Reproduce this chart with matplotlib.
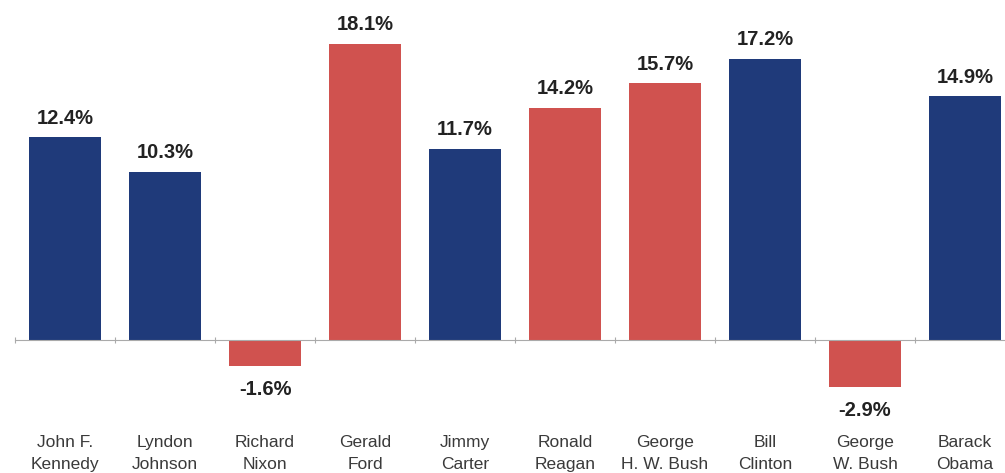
import numpy as np
import matplotlib.pyplot as plt

plt.rcParams["font.family"] = ["Liberation Sans", "DejaVu Sans"]

# data
presidents = ["John F.\nKennedy", "Lyndon\nJohnson", "Richard\nNixon", "Gerald\nFord",
              "Jimmy\nCarter", "Ronald\nReagan", "George\nH. W. Bush", "Bill\nClinton",
              "George\nW. Bush", "Barack\nObama"]
values = [12.4, 10.3, -1.6, 18.1, 11.7, 14.2, 15.7, 17.2, -2.9, 14.9]
party = ["D", "D", "R", "R", "D", "R", "R", "D", "R", "D"]

colors = {"D": "#1f3a7a", "R": "#d0524f"}

fig = plt.figure(figsize=(10.05, 4.73), dpi=100)
ax = fig.add_axes([15 / 1005, 0, 990 / 1005, 1])

x = np.arange(len(values))
ax.bar(x, values, width=0.72, color=[colors[p] for p in party], zorder=2)

# value labels
for xi, v in zip(x, values):
    off = 7 if v >= 0 else -10
    va = "bottom" if v >= 0 else "top"
    ax.annotate(f"{v:.1f}%", (xi, v), xytext=(0, off), textcoords="offset points",
                ha="center", va=va, fontsize=14.5, fontweight="bold", color="#222222")

# category labels below
for xi, name in zip(x, presidents):
    ax.text(xi, -6.95, name, ha="center", va="center", fontsize=12.5,
            color="#3a3a3a", linespacing=1.55)

for s in ["top", "right", "left"]:
    ax.spines[s].set_visible(False)
ax.spines["bottom"].set_position(("data", 0))
ax.spines["bottom"].set_color("#aaaaaa")
ax.set_xticks(np.arange(-0.5, 10, 1))
ax.set_xticklabels([])
ax.tick_params(axis="x", length=4, color="#aaaaaa", direction="inout")
ax.set_yticks([])

ax.set_xlim(-0.5, 9.4)
ax.set_ylim(-8.13, 20.8)

fig.savefig("out.png", dpi=100)
